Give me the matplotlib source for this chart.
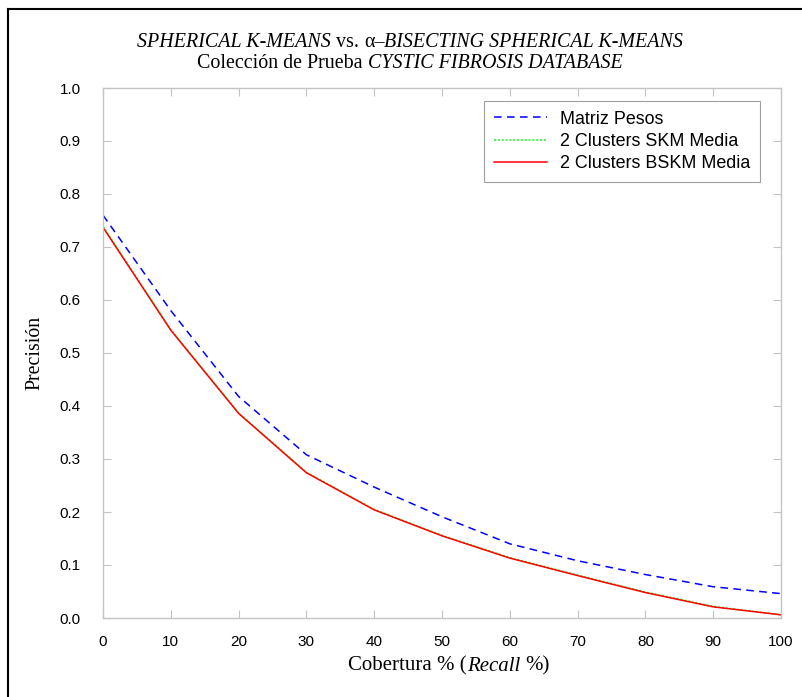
import matplotlib
matplotlib.use("Agg")
import matplotlib.pyplot as plt
from matplotlib.lines import Line2D
from matplotlib.offsetbox import TextArea, HPacker, VPacker, AnchoredOffsetbox

recall = [0, 10, 20, 30, 40, 50, 60, 70, 80, 90, 100]
matriz_pesos = [0.76, 0.58, 0.418, 0.308, 0.247, 0.191, 0.140, 0.108, 0.082, 0.059, 0.046]
skm_media = [0.739, 0.544, 0.387, 0.275, 0.205, 0.156, 0.114, 0.081, 0.049, 0.022, 0.006]
bskm_media = [0.737, 0.543, 0.386, 0.274, 0.204, 0.155, 0.113, 0.080, 0.048, 0.021, 0.006]
series_names = ["Matriz Pesos", "2 Clusters SKM Media", "2 Clusters BSKM Media"]

serif = "Liberation Serif"
sans = ["Liberation Sans Narrow", "Liberation Sans", "DejaVu Sans"]
gray = "#c4c4c4"

fig = plt.figure(figsize=(8.02, 6.97), dpi=100)
ax = fig.add_axes([103 / 802, 1 - 618 / 697, 678 / 802, 530 / 697])

ax.plot(recall, matriz_pesos, color="blue", lw=1.1, ls=(0, (5, 3.5)), label=series_names[0])
ax.plot(recall, skm_media, color="#33ee33", lw=1.1, ls=(0, (1.5, 1)), label=series_names[1])
ax.plot(recall, bskm_media, color="red", lw=1.1, label=series_names[2])

ax.set_xlim(0, 100)
ax.set_ylim(0, 1.0)
ax.set_xticks(recall)
ax.set_yticks([i / 10 for i in range(11)])
ax.set_yticklabels([f"{i / 10:.1f}" for i in range(11)])
for s in ax.spines.values():
    s.set_color(gray)
    s.set_linewidth(1.0)
ax.tick_params(direction="in", length=6, width=0.8, color=gray,
               top=True, right=True, labelsize=11, labelcolor="black")
ax.tick_params(axis="x", pad=12)
ax.tick_params(axis="y", pad=16)
for lab in ax.get_xticklabels() + ax.get_yticklabels():
    lab.set_family(sans)

ax.set_ylabel("Precisión", family=serif, fontsize=14.3, labelpad=11)

leg = ax.legend(loc="upper right", bbox_to_anchor=(0.969, 0.976), fancybox=False,
                framealpha=1, edgecolor="#a0a0a0", handlelength=3.0, handletextpad=0.7,
                prop={"family": sans, "size": 12.9}, borderpad=0.55, labelspacing=0.3,
                borderaxespad=0)
leg.get_frame().set_linewidth(0.8)


def piece(txt, italic=False, size=14.4):
    return TextArea(txt, textprops=dict(family=serif, size=size,
                                         style="italic" if italic else "normal"))


line1 = HPacker(children=[piece("SPHERICAL K-MEANS", True), piece("vs."),
                          HPacker(children=[piece("α–"), piece("BISECTING SPHERICAL K-MEANS", True)],
                                  sep=0, pad=0)],
                sep=3.7, pad=0, align="baseline")
line2 = HPacker(children=[piece("Colección de Prueba"), piece("CYSTIC FIBROSIS DATABASE", True)],
                sep=3.7, pad=0, align="baseline")
title = VPacker(children=[line1, line2], sep=2, pad=0, align="center")
fig.add_artist(AnchoredOffsetbox(loc="center", child=title, frameon=False, pad=0,
                                 bbox_to_anchor=(410 / 802, 1 - 53 / 697),
                                 bbox_transform=fig.transFigure))

xs = 15
xlab = HPacker(children=[HPacker(children=[piece("Cobertura % (", size=xs), piece("Recall", True, xs)],
                                 sep=0.5, pad=0, align="baseline"),
                         piece("%)", size=xs)],
               sep=3.5, pad=0, align="baseline")
fig.add_artist(AnchoredOffsetbox(loc="center", child=xlab, frameon=False, pad=0,
                                 bbox_to_anchor=(449 / 802, 1 - 666 / 697),
                                 bbox_transform=fig.transFigure))

# outer frame (top and left edges only)
fig.add_artist(Line2D([8 / 802, 1], [1 - 9 / 697, 1 - 9 / 697], color="black", lw=1.5,
                      transform=fig.transFigure))
fig.add_artist(Line2D([8 / 802, 8 / 802], [0, 1 - 9 / 697], color="black", lw=1.5,
                      transform=fig.transFigure))

fig.savefig("out.png", dpi=100)
